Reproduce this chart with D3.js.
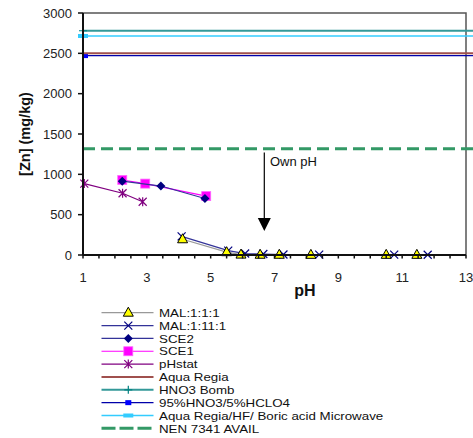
<!DOCTYPE html>
<html><head><meta charset="utf-8">
<script src="https://cdn.jsdelivr.net/npm/d3@7"></script>
<style>
body{margin:0;background:#fff;}
svg{display:block;font-family:"Liberation Sans",Arial,sans-serif;}
</style></head>
<body><svg id="c" width="473" height="438"></svg>
<script>
// ---- data ----
const mal111_pH = [4.12, 5.5, 5.95, 6.55, 7.15, 8.14, 10.5, 11.46];
const mal111_zn = [195, 35, 5, 3, 3, 2, 2, 2];
const mal1111_pH = [4.09, 5.55, 6.08, 6.65, 7.28, 8.4, 10.75, 11.8];
const mal1111_zn = [230, 55, 18, 12, 6, 5, 4, 3];
const sce2_pH = [2.23, 3.44, 4.82];
const sce2_zn = [915, 855, 700];
const sce1_pH = [2.23, 2.95, 4.86];
const sce1_zn = [930, 885, 730];
const phstat_pH = [1.04, 2.24, 2.87];
const phstat_zn = [885, 765, 660];
const refLines_pH = [1, 14];
const aquaRegia = 2500;
const hno3Bomb = 2780;
const hno3hclo4 = 2472;
const aquaRegiaMW = 2715;
const nenAvail = 1318;
const xTicks = [1, 3, 5, 7, 9, 11, 13];
const yTicks = [0, 500, 1000, 1500, 2000, 2500, 3000];
const legendNames = ["MAL:1:1:1", "MAL:1:11:1", "SCE2", "SCE1", "pHstat", "Aqua Regia", "HNO3 Bomb", "95%HNO3/5%HCLO4", "Aqua Regia/HF/ Boric acid Microwave", "NEN 7341 AVAIL"];

const svg = d3.select("#c");
const x = d3.scaleLinear().domain([1, 13]).range([83, 466]);
const y = d3.scaleLinear().domain([0, 3000]).range([255, 13]);

const zip = (a, b) => a.map((v, i) => [v, b[i]]);
const line = d3.line().x(d => x(d[0])).y(d => y(d[1]));

// plot border (top/right)
svg.append("path").attr("d", `M${x(1)},${y(3000)}H${x(13)}V${y(0)}`)
  .attr("fill", "none").attr("stroke", "#555").attr("stroke-width", 1.5);

// markers
function marker(g, type, cx, cy) {
  if (type === "tri") {
    g.append("path").attr("d", `M${cx},${cy-5.5}L${cx+5},${cy+3.5}L${cx-5},${cy+3.5}Z`)
      .attr("fill", "#ffff00").attr("stroke", "#000").attr("stroke-width", 1);
  } else if (type === "x") {
    g.append("path").attr("d", `M${cx-4},${cy-4}L${cx+4},${cy+4}M${cx-4},${cy+4}L${cx+4},${cy-4}`)
      .attr("stroke", "#000080").attr("stroke-width", 1.2);
  } else if (type === "dia") {
    g.append("path").attr("d", `M${cx},${cy-4.5}L${cx+4.5},${cy}L${cx},${cy+4.5}L${cx-4.5},${cy}Z`)
      .attr("fill", "#000080");
  } else if (type === "sq") {
    g.append("rect").attr("x", cx-4.5).attr("y", cy-4.5).attr("width", 9).attr("height", 9)
      .attr("fill", "#ff00ff").attr("stroke", "#ff66ff").attr("stroke-width", 0.8);
  } else if (type === "ast") {
    g.append("path").attr("d", `M${cx-4},${cy-4}L${cx+4},${cy+4}M${cx-4},${cy+4}L${cx+4},${cy-4}M${cx},${cy-4.5}V${cy+4.5}`)
      .attr("stroke", "#800080").attr("stroke-width", 1.2);
  } else if (type === "plus") {
    g.append("path").attr("d", `M${cx-4},${cy}H${cx+4}M${cx},${cy-4}V${cy+4}`)
      .attr("stroke", "#008080").attr("stroke-width", 1.2);
  } else if (type === "bdash") {
    g.append("rect").attr("x", cx-1).attr("y", cy-2.5).attr("width", 6).attr("height", 5).attr("fill", "#0000ff");
  } else if (type === "cdash") {
    g.append("rect").attr("x", cx-5).attr("y", cy-2).attr("width", 10).attr("height", 4).attr("fill", "#33ccff");
  }
}

const series = [
  {pts: zip(mal111_pH, mal111_zn), color: "#999999", w: 1.2, m: "tri"},
  {pts: zip(mal1111_pH, mal1111_zn), color: "#333399", w: 1.2, m: "x"},
  {pts: zip(sce2_pH, sce2_zn), color: "#333399", w: 1.2, m: "dia"},
  {pts: zip(sce1_pH, sce1_zn), color: "#ff00ff", w: 1.2, m: "sq"},
  {pts: zip(phstat_pH, phstat_zn), color: "#800080", w: 1.2, m: "ast"},
  {pts: refLines_pH.map(p => [p, aquaRegia]), color: "#a0504d", w: 2, m: null},
  {pts: refLines_pH.map(p => [p, hno3Bomb]), color: "#339999", w: 2, m: "plus", only0: true},
  {pts: refLines_pH.map(p => [p, hno3hclo4]), color: "#0000aa", w: 1.2, m: "bdash", only0: true},
  {pts: refLines_pH.map(p => [p, aquaRegiaMW]), color: "#33ccff", w: 1.5, m: "cdash", only0: true},
  {pts: refLines_pH.map(p => [p, nenAvail]), color: "#339966", w: 3, m: null, dash: "12,6"}
];

// draw in reverse so the first series end up on top
const gPlot = svg.append("g");
series.slice().reverse().forEach(s => {
  gPlot.append("path").attr("d", line(s.pts)).attr("fill", "none")
    .attr("stroke", s.color).attr("stroke-width", s.w)
    .attr("stroke-dasharray", s.dash || null);
  if (s.m) {
    const pts = s.only0 ? [s.pts[0]] : s.pts;
    pts.forEach(p => marker(gPlot, s.m, x(p[0]), y(p[1])));
  }
});

// axes
const yAxis = svg.append("g");
yAxis.append("line").attr("x1", x(1)).attr("x2", x(1)).attr("y1", y(3000)).attr("y2", y(0))
  .attr("stroke", "#111").attr("stroke-width", 2);
yTicks.forEach(t => {
  yAxis.append("line").attr("x1", x(1) - 5).attr("x2", x(1)).attr("y1", y(t)).attr("y2", y(t))
    .attr("stroke", "#111").attr("stroke-width", 1.5);
  yAxis.append("text").attr("x", 72).attr("y", y(t) + 4.5).attr("text-anchor", "end")
    .attr("font-size", 13).attr("fill", "#222").text(t);
});
const xAxis = svg.append("g");
xAxis.append("line").attr("x1", x(1)).attr("x2", x(13)).attr("y1", y(0)).attr("y2", y(0))
  .attr("stroke", "#111").attr("stroke-width", 2);
d3.range(1, 13.01, 0.5).forEach(t => {
  xAxis.append("line").attr("x1", x(t)).attr("x2", x(t)).attr("y1", y(0)).attr("y2", y(0) + 3.5)
    .attr("stroke", "#111").attr("stroke-width", 1.5);
});
xTicks.forEach(t => {
  xAxis.append("text").attr("x", x(t)).attr("y", 281.5).attr("text-anchor", "middle")
    .attr("font-size", 13).attr("fill", "#222").text(t);
});

// axis titles
svg.append("text").attr("transform", "translate(30,134) rotate(-90)").attr("text-anchor", "middle")
  .attr("font-size", 14.5).attr("font-weight", "bold").attr("fill", "#111").text("[Zn] (mg/kg)");
svg.append("text").attr("x", 305).attr("y", 296).attr("text-anchor", "middle")
  .attr("font-size", 16).attr("font-weight", "bold").attr("fill", "#111").text("pH");

// annotation arrow
svg.append("line").attr("x1", 264.3).attr("x2", 264.3).attr("y1", 152.5).attr("y2", 219)
  .attr("stroke", "#000").attr("stroke-width", 1.2);
svg.append("path").attr("d", "M257.8,218L270.8,218L264.3,231Z").attr("fill", "#000");
svg.append("text").attr("x", 270).attr("y", 166).attr("font-size", 13).attr("fill", "#111").text("Own pH");

// legend
const lg = svg.append("g");
const lx0 = 101.5, lx1 = 153.5, lmx = 128.3, ltx = 159;
series.forEach((s, i) => {
  const ly = 312.7 + 12.85 * i;
  lg.append("line").attr("x1", lx0).attr("x2", lx1).attr("y1", ly).attr("y2", ly)
    .attr("stroke", s.color).attr("stroke-width", s.w)
    .attr("stroke-dasharray", s.dash ? "14,4" : null);
  if (s.m) marker(lg, s.m, s.m === "bdash" ? lmx - 2 : lmx, ly);
  lg.append("text").attr("transform", `translate(${ltx},${ly + 4.2}) scale(1.19,1)`)
    .attr("font-size", 11.2).attr("fill", "#111")
    .text(legendNames[i]);
});
</script>
</body></html>
